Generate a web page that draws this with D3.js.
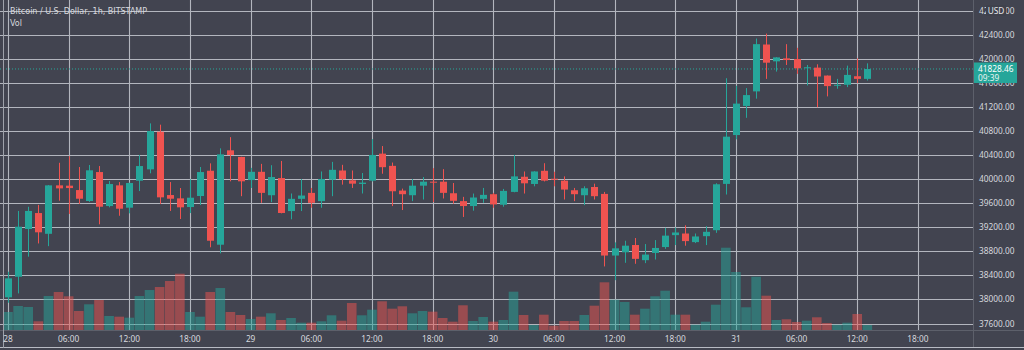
<!DOCTYPE html>
<html><head><meta charset="utf-8">
<script src="https://cdn.jsdelivr.net/npm/d3@7"></script>
<style>html,body{margin:0;padding:0;background:#424450;overflow:hidden}</style>
</head><body><svg id="c" width="1024" height="350"></svg>
<script>
// ---- data (hourly candles, 28 00:00 .. 31 13:00) ----
const hours = d3.range(86);
const open  = [38035,38377,39170,39435,39090,39895,39890,39817,39635,40116,39551,39895,39524,39972,40161,40786,39734,39679,39535,39718,40138,38909,40477,40367,39983,40120,39731,40016,39468,39671,39770,39633,39989,40142,39978,39918,39973,40422,40219,39808,39731,39890,39956,39956,39764,39633,39551,39671,39748,39573,39786,40038,39918,40137,40005,39973,39814,39731,39868,39753,38729,38783,38904,38652,38772,38870,39068,39095,38952,39051,39150,39919,40731,41214,41456,42235,41955,42005,41994,41840,41851,41719,41555,41566,41708,41664];
const high  = [38460,39470,39540,39570,39900,40270,40380,40200,40233,40216,39967,39950,39940,40400,40925,40903,39950,39851,39995,40200,40261,40510,40696,40370,40186,40252,40230,40300,39760,40000,39852,40126,40285,40236,40142,40100,40663,40548,40274,39841,40000,40033,40181,40164,39934,39704,39759,39852,39770,39836,40400,40126,40130,40263,40121,40044,39852,39880,39923,39786,38948,38975,39020,38920,38986,39190,39194,39232,39095,39216,39930,41675,41549,41511,42334,42416,42025,42241,42180,41895,41906,41720,41664,41884,42005,41922];
const low   = [37945,38100,38710,38930,38885,39640,39420,39585,39620,39248,39530,39390,39430,39800,40095,39585,39470,39336,39435,39568,38866,38766,39962,39715,39852,39605,39616,39430,39331,39468,39523,39523,39715,39907,39852,39760,39960,40088,39551,39485,39633,39660,39616,39677,39589,39370,39474,39605,39523,39540,39780,39759,39879,39960,39879,39660,39633,39567,39660,38548,38320,38608,38592,38603,38663,38840,38903,38892,38936,38903,39106,39743,40660,41017,41335,41664,41785,41895,41747,41555,41192,41373,41500,41527,41593,41637];
const close = [38350,39208,39470,39115,39895,39845,39850,39673,40145,39540,39917,39507,39934,40216,40797,39696,39673,39530,39690,40116,38975,40410,40400,39962,40120,39770,40033,39436,39671,39726,39605,40000,40153,40000,39923,39940,40400,40197,39797,39748,39890,39956,39945,39770,39638,39551,39693,39737,39578,39803,40044,39929,40126,39973,39995,39825,39748,39847,39715,38729,38849,38893,38674,38745,38855,39060,39112,38969,39046,39123,39913,40704,41253,41395,42241,41933,42021,41977,41840,41857,41703,41544,41566,41730,41664,41828.46];
const volume = [450,600,575,218,850,950,843,475,643,750,350,333,308,850,1000,1075,1225,1408,450,333,950,1050,450,375,275,333,418,250,300,183,183,218,368,233,675,368,508,718,533,593,418,475,458,300,208,618,225,325,208,250,958,375,125,383,108,225,225,375,608,1193,758,700,383,533,843,983,383,383,133,208,633,2058,1450,568,1333,858,250,268,200,233,318,175,133,183,400,125];
const priceTicks = [37600,38000,38400,38800,39200,39600,40000,40400,40800,41200,41600,42000,42400,42800];
const timeTickHours = [0,6,12,18,24,30,36,42,48,54,60,66,72,78,84,90];
const timeTickLabels = ["28","06:00","12:00","18:00","29","06:00","12:00","18:00","30","06:00","12:00","18:00","31","06:00","12:00","18:00"];
const title = "Bitcoin / U.S. Dollar, 1h, BITSTAMP";
const lastPrice = 41828.46, countdown = "09:39";

// ---- layout ----
const W = 1024, H = 350, plotR = 973, plotB = 330;
const UP = "#26a69a", DOWN = "#ef5350";
const FONT = "'Noto Sans', 'Open Sans', sans-serif";
const x = d3.scaleLinear().domain([0, 90]).range([8, 8 + 90 * 10.11]);
const y = d3.scaleLinear().domain([37600, 42800]).range([323.5, 10.5]);
const vh = d3.scaleLinear().domain([0, d3.max(volume)]).range([0, 82.3]);

const svg = d3.select("#c");
svg.append("rect").attr("width", W).attr("height", H).attr("fill", "#424450");

// grid
const grid = svg.append("g").attr("stroke", "#b3b6be").attr("stroke-width", 1.1);
grid.selectAll("line.h").data(priceTicks).join("line")
  .attr("x1", 0).attr("x2", plotR).attr("y1", d => Math.round(y(d)) + 0.5).attr("y2", d => Math.round(y(d)) + 0.5);
grid.selectAll("line.v").data(timeTickHours).join("line")
  .attr("x1", d => Math.round(x(d)) + 0.5).attr("x2", d => Math.round(x(d)) + 0.5).attr("y1", 0).attr("y2", plotB);

// volume
const bw = 9.6;
svg.append("g").selectAll("rect").data(hours).join("rect")
  .attr("x", i => x(i) - bw / 2).attr("width", bw)
  .attr("y", i => plotB - vh(volume[i])).attr("height", i => vh(volume[i]))
  .attr("fill", i => close[i] >= open[i] ? UP : DOWN).attr("fill-opacity", 0.5);

// last price dotted line
svg.append("line").attr("x1", 0).attr("x2", plotR).attr("y1", y(lastPrice)).attr("y2", y(lastPrice))
  .attr("stroke", UP).attr("stroke-width", 1).attr("stroke-dasharray", "1,2");

// candles
const cg = svg.append("g");
cg.selectAll("line").data(hours).join("line")
  .attr("x1", i => Math.round(x(i)) + 0.5).attr("x2", i => Math.round(x(i)) + 0.5)
  .attr("y1", i => y(high[i])).attr("y2", i => y(low[i]))
  .attr("stroke", i => close[i] >= open[i] ? UP : DOWN).attr("stroke-width", 1);
const cw = 7;
cg.selectAll("rect").data(hours).join("rect")
  .attr("x", i => Math.round(x(i)) + 0.5 - cw / 2).attr("width", cw)
  .attr("y", i => y(Math.max(open[i], close[i])))
  .attr("height", i => Math.max(1, Math.abs(y(open[i]) - y(close[i]))))
  .attr("fill", i => close[i] >= open[i] ? UP : DOWN);

// axis panels
svg.append("line").attr("x1", plotR + 0.5).attr("x2", plotR + 0.5).attr("y1", 0).attr("y2", 347).attr("stroke", "#5d606b");
svg.append("line").attr("x1", 0).attr("x2", W).attr("y1", plotB + 0.5).attr("y2", plotB + 0.5).attr("stroke", "#5d606b");
svg.append("line").attr("x1", 0).attr("x2", W).attr("y1", 347.5).attr("y2", 347.5).attr("stroke", "#b8bbc4");
svg.append("line").attr("x1", 3.5).attr("x2", 3.5).attr("y1", 0).attr("y2", 348).attr("stroke", "#9ea1aa");

// price axis
svg.append("g").selectAll("text").data(priceTicks).join("text")
  .attr("x", 979).attr("y", d => y(d) + 3)
  .attr("font-family", FONT).attr("font-size", 8.3).attr("fill", "#d6d8de")
  .text(d => d3.format(".2f")(d));

// time axis
svg.append("g").selectAll("text").data(timeTickHours).join("text")
  .attr("x", d => x(d)).attr("y", 341.5).attr("text-anchor", "middle")
  .attr("font-family", FONT).attr("font-size", 8.3).attr("fill", "#d6d8de")
  .text((d, i) => timeTickLabels[i]);

// USD badge
svg.append("rect").attr("x", 986).attr("y", 5).attr("width", 20).attr("height", 11).attr("fill", "#3f414c");
svg.append("text").attr("x", 996).attr("y", 13.5).attr("text-anchor", "middle")
  .attr("font-family", FONT).attr("font-size", 8.3).attr("fill", "#e8e9ec").text("USD");

// last price label
const ly = y(lastPrice);
svg.append("rect").attr("x", plotR + 1).attr("y", ly - 6.5).attr("width", 43).attr("height", 20.5).attr("fill", UP);
svg.append("text").attr("x", 978).attr("y", ly + 3).attr("font-family", FONT).attr("font-size", 8.3)
  .attr("fill", "#ffffff").text(d3.format(".2f")(lastPrice));
svg.append("text").attr("x", 978).attr("y", ly + 12).attr("font-family", FONT).attr("font-size", 8.3)
  .attr("fill", "#e6f4f2").text(countdown);

// title
svg.append("text").attr("x", 10).attr("y", 14).attr("font-family", "'DejaVu Sans', sans-serif").attr("font-size", 8)
  .attr("fill", "#d6d8de").text(title);
svg.append("text").attr("x", 10).attr("y", 26).attr("font-family", "'DejaVu Sans', sans-serif").attr("font-size", 8)
  .attr("fill", "#d6d8de").text("Vol");
</script></body></html>
